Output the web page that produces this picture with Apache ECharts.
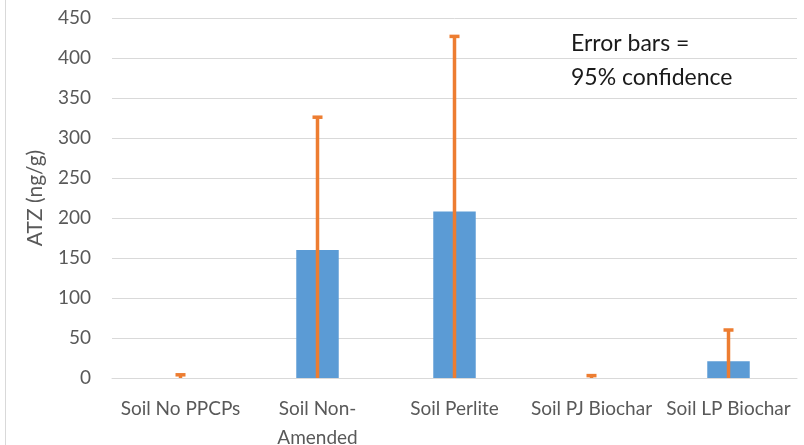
<!DOCTYPE html>
<html>
<head>
<meta charset="utf-8">
<script src="https://cdn.jsdelivr.net/npm/echarts@6/dist/echarts.min.js"></script>
<style>
  html, body { margin: 0; padding: 0; background: #fff; }
  #chart { width: 804px; height: 445px; }
</style>
</head>
<body>
<div id="chart"></div>
<script>
// Soil treatments on the x axis
const categories = ['Soil No PPCPs', 'Soil Non-\nAmended', 'Soil Perlite', 'Soil PJ Biochar', 'Soil LP Biochar'];
// Mean ATZ concentration (ng/g)
const atzMean = [0, 160, 208, 0, 21];
// Half-width of the 95% confidence interval (ng/g)
const ci95 = [4, 166, 219, 3, 39];
// y axis ticks
const yTicks = [0, 50, 100, 150, 200, 250, 300, 350, 400, 450];

const FONT = 'Lato, "Open Sans", sans-serif';
const errData = categories.map((c, i) => [i, Math.max(0, atzMean[i] - ci95[i]), atzMean[i] + ci95[i]]);

const chart = echarts.init(document.getElementById('chart'));
chart.setOption({
  animation: false,
  backgroundColor: '#ffffff',
  grid: { left: 112, right: 7, top: 18, bottom: 67, containLabel: false, outerBoundsMode: 'none' },
  xAxis: {
    type: 'category',
    data: categories,
    axisLine: { show: true, lineStyle: { color: '#D9D9D9', width: 1 } },
    axisTick: { show: false },
    axisLabel: { color: '#595959', fontFamily: FONT, fontSize: 19, margin: 16, lineHeight: 29, interval: 0 }
  },
  yAxis: {
    type: 'value',
    min: yTicks[0],
    max: yTicks[yTicks.length - 1],
    interval: 50,
    name: 'ATZ (ng/g)',
    nameLocation: 'middle',
    nameGap: 66,
    nameTextStyle: { color: '#595959', fontFamily: FONT, fontSize: 21 },
    axisLine: { show: false },
    axisTick: { show: false },
    axisLabel: { color: '#595959', fontFamily: FONT, fontSize: 19, margin: 21 },
    splitLine: { lineStyle: { color: '#D9D9D9', width: 1 } }
  },
  series: [
    {
      type: 'bar',
      data: atzMean,
      barWidth: '31%',
      itemStyle: { color: '#5B9BD5' }
    },
    {
      type: 'custom',
      data: errData,
      z: 10,
      renderItem: function (params, api) {
        const x = api.value(0);
        const lo = api.coord([x, api.value(1)]);
        const hi = api.coord([x, api.value(2)]);
        const capHalf = 5;
        const style = { stroke: '#ED7D31', lineWidth: 3.5 };
        return {
          type: 'group',
          children: [
            { type: 'line', shape: { x1: lo[0], y1: lo[1], x2: hi[0], y2: hi[1] + 1 }, style: style },
            { type: 'line', shape: { x1: hi[0] - capHalf, y1: hi[1], x2: hi[0] + capHalf, y2: hi[1] }, style: style }
          ]
        };
      }
    }
  ],
  graphic: [
    { type: 'line', shape: { x1: 5.5, y1: 0, x2: 5.5, y2: 445 }, style: { stroke: '#D9D9D9', lineWidth: 1 } },
    {
      type: 'text', left: 571, top: 27,
      style: { text: 'Error bars =\n95% confidence', fill: '#1a1a1a', font: '23px ' + FONT, lineHeight: 34 }
    }
  ]
});
</script>
</body>
</html>
